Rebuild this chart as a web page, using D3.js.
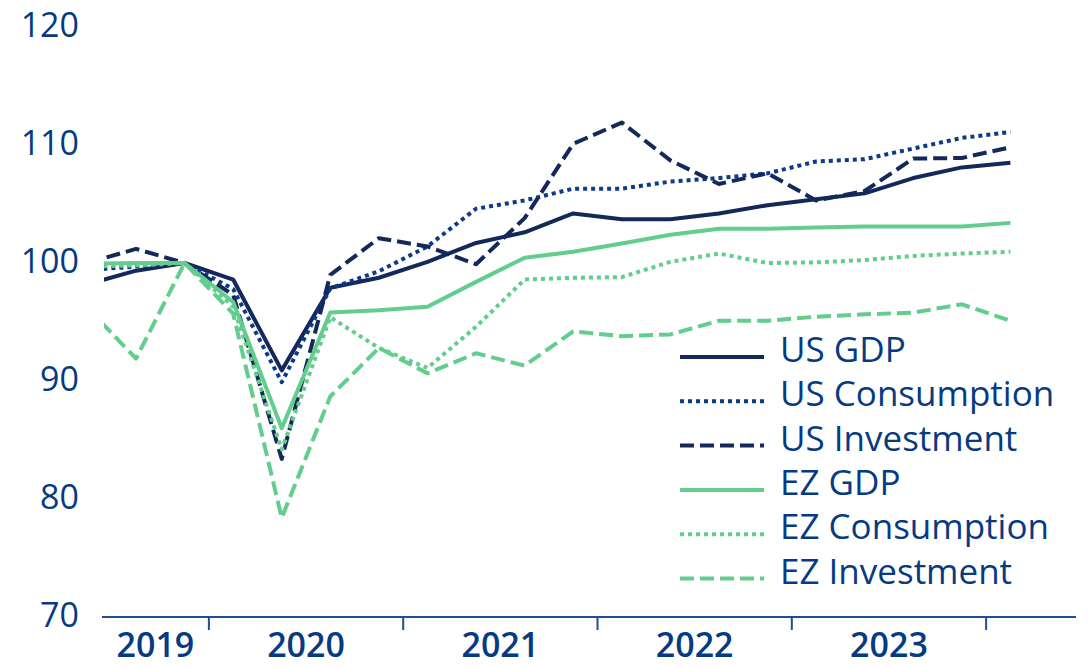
<!DOCTYPE html>
<html>
<head>
<meta charset="utf-8">
<script src="https://cdn.jsdelivr.net/npm/d3@7"></script>
<style>
  html, body { margin: 0; padding: 0; background: #ffffff; }
  svg { display: block; }
  text { font-family: "Open Sans", "Noto Sans", sans-serif; fill: #063a82; }
</style>
</head>
<body>
<svg id="chart" width="1088" height="667"></svg>
<script>
// Quarters 2019Q2 .. 2024Q1 (index 1 = 2019Q2)
const quarters = ["2019Q2","2019Q3","2019Q4","2020Q1","2020Q2","2020Q3","2020Q4",
  "2021Q1","2021Q2","2021Q3","2021Q4","2022Q1","2022Q2","2022Q3","2022Q4",
  "2023Q1","2023Q2","2023Q3","2023Q4","2024Q1"];
const quarterIndex = quarters.map((q, i) => i + 1);

const usGDP  = [98.2, 99.35, 100, 98.6, 90.9, 97.9, 98.75, 100.1, 101.7, 102.6, 104.2, 103.7, 103.7, 104.2, 104.9, 105.4, 105.9, 107.2, 108.1, 108.5];
const usCons = [99.4, 99.7, 100, 97.8, 89.9, 97.85, 99.3, 101.4, 104.6, 105.3, 106.3, 106.3, 106.9, 107.2, 107.6, 108.6, 108.8, 109.7, 110.6, 111.1];
const usInv  = [100.0, 101.2, 100, 97.3, 83.4, 99.0, 102.1, 101.4, 99.9, 103.8, 110.1, 111.9, 108.7, 106.7, 107.6, 105.3, 106.1, 108.85, 108.9, 109.8];
const ezGDP  = [99.93, 100.0, 100, 96.7, 86.0, 95.8, 96.0, 96.3, 98.4, 100.45, 100.95, 101.65, 102.4, 102.9, 102.9, 103.0, 103.1, 103.1, 103.1, 103.4];
const ezCons = [99.7, 99.8, 100, 96.3, 84.2, 95.4, 92.8, 91.1, 94.6, 98.6, 98.75, 98.8, 100.1, 100.8, 100.0, 100.05, 100.25, 100.6, 100.8, 100.95];
const ezInv  = [96.2, 91.9, 100, 95.7, 78.4, 88.7, 92.8, 90.65, 92.35, 91.3, 94.2, 93.8, 93.95, 95.1, 95.1, 95.45, 95.65, 95.8, 96.5, 95.1];

const seriesNames = ["US GDP", "US Consumption", "US Investment", "EZ GDP", "EZ Consumption", "EZ Investment"];
const seriesValues = [usGDP, usCons, usInv, ezGDP, ezCons, ezInv];

const yTicks = [70, 80, 90, 100, 110, 120];
const yearLabels = ["2019", "2020", "2021", "2022", "2023"];
const yearStartIndex = [-0.5, 3.5, 7.5, 11.5, 15.5, 19.5]; // quarter-index boundaries

const NAVY = "#14295a", BLUE = "#0b3a8a", GREEN = "#62cd8c";
const styles = [
  { color: NAVY,  dash: null,   width: 4 },
  { color: BLUE,  dash: "4,4",  width: 4 },
  { color: NAVY,  dash: "14,6", width: 4 },
  { color: GREEN, dash: null,   width: 4 },
  { color: GREEN, dash: "4,4",  width: 4 },
  { color: GREEN, dash: "14,6", width: 4 }
];

const svg = d3.select("#chart");
const x = d3.scaleLinear().domain([1.3, 21.35]).range([102, 1076]);
const y = d3.scaleLinear().domain([70, 120]).range([617, 27]);

// clip
svg.append("clipPath").attr("id", "clip").append("rect")
  .attr("x", x(1.34)).attr("y", 0).attr("width", 1076 - x(1.34)).attr("height", 640);

// y labels
svg.append("g").selectAll("text").data(yTicks).join("text")
  .attr("x", 79).attr("y", d => y(d) - 3)
  .attr("text-anchor", "end").attr("dominant-baseline", "central")
  .style("font-size", "34px").style("font-weight", 500)
  .text(d => d);

// x axis
const axisColor = "#1f4e96";
svg.append("line").attr("x1", 102).attr("x2", 1076).attr("y1", 617).attr("y2", 617)
  .attr("stroke", axisColor).attr("stroke-width", 2);
svg.append("g").selectAll("line").data(yearStartIndex.slice(1)).join("line")
  .attr("x1", d => x(d)).attr("x2", d => x(d)).attr("y1", 617).attr("y2", 630)
  .attr("stroke", axisColor).attr("stroke-width", 2);
svg.append("g").selectAll("text").data(yearLabels).join("text")
  .attr("x", (d, i) => (Math.max(x(yearStartIndex[i]), 102) + x(yearStartIndex[i + 1])) / 2)
  .attr("y", 657)
  .attr("text-anchor", "middle")
  .style("font-size", "34px").style("font-weight", 600)
  .text(d => d);

// lines
const line = d3.line().x((d, i) => x(quarterIndex[i])).y(d => y(d));
const g = svg.append("g").attr("clip-path", "url(#clip)");
seriesValues.forEach((vals, k) => {
  g.append("path").datum(vals)
    .attr("d", line)
    .attr("fill", "none")
    .attr("stroke", styles[k].color)
    .attr("stroke-width", styles[k].width)
    .attr("stroke-linejoin", "round")
    .attr("stroke-dasharray", styles[k].dash);
});

// legend
const legend = svg.append("g");
seriesNames.forEach((name, k) => {
  const ly = 357 + k * 44.3;
  legend.append("line").attr("x1", 680).attr("x2", 764).attr("y1", ly).attr("y2", ly)
    .attr("stroke", styles[k].color).attr("stroke-width", 4)
    .attr("stroke-dasharray", styles[k].dash);
  legend.append("text").attr("x", 780).attr("y", ly + 5)
    .style("font-size", "35px").style("font-weight", 500)
    .text(name);
});
</script>
</body>
</html>
